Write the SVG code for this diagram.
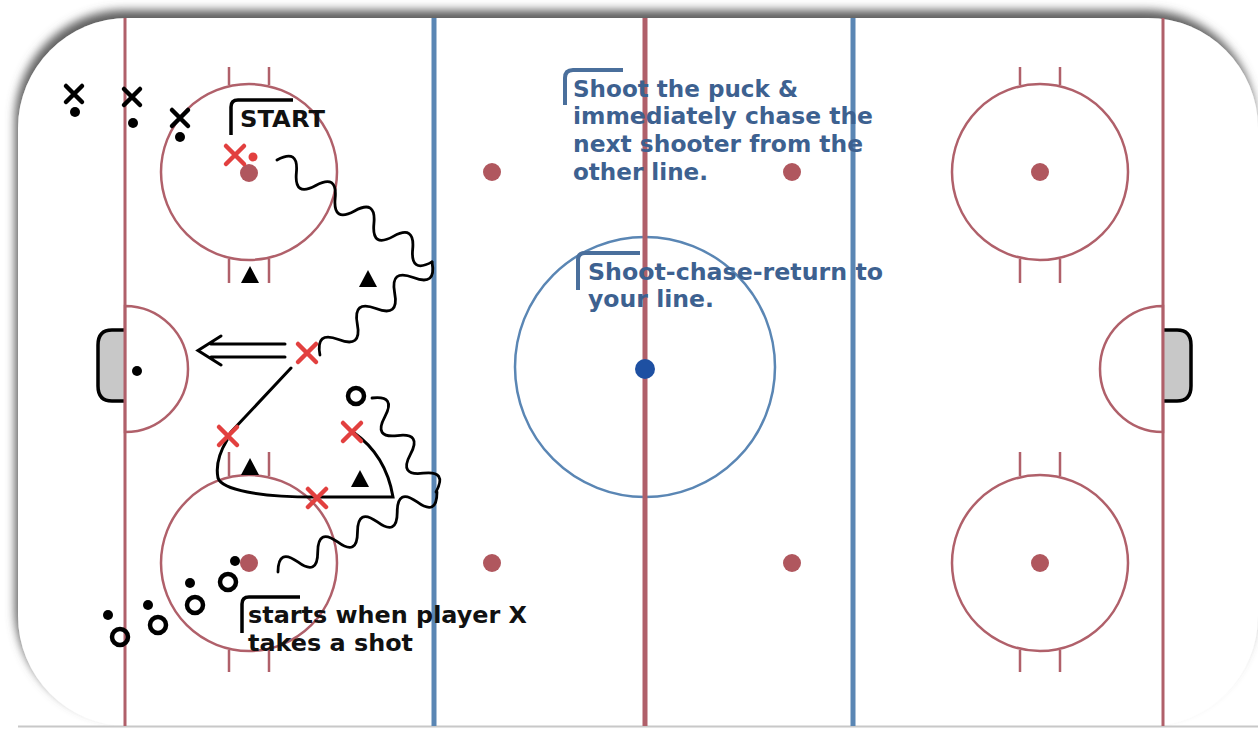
<svg xmlns="http://www.w3.org/2000/svg" width="1258" height="729" viewBox="0 0 1258 729">
<defs>
<filter id="sh" x="-5%" y="-5%" width="110%" height="110%">
<feGaussianBlur in="SourceAlpha" stdDeviation="5"/>
<feOffset dx="-3" dy="-8" result="b"/>
<feFlood flood-color="#606060"/>
<feComposite in2="b" operator="in"/>
<feMerge><feMergeNode/><feMergeNode in="SourceGraphic"/></feMerge>
</filter>
<style>
.red{stroke:#b0606a;fill:none}
.blue{stroke:#5a86b4;fill:none}
.rdot{fill:#b0575e}
.rx{stroke:#e2403f;stroke-width:4.5;stroke-linecap:round;fill:none}
.bx{stroke:#000;stroke-width:4.5;stroke-linecap:round;fill:none}
.o{stroke:#000;stroke-width:4.5;fill:none}
.wave{stroke:#000;stroke-width:2.8;fill:none;stroke-linecap:round}
.path{stroke:#000;stroke-width:3;fill:none;stroke-linecap:round}
.tri{fill:#000}
.tb{font-family:"DejaVu Sans","Liberation Sans",sans-serif;font-weight:bold;font-size:23px;fill:#3d6190}
.tk{font-family:"DejaVu Sans","Liberation Sans",sans-serif;font-weight:bold;font-size:23px;fill:#111}
.brb{stroke:#4a6f9c;stroke-width:4;fill:none}
.brk{stroke:#000;stroke-width:3.5;fill:none}
</style>
</defs>
<rect width="1258" height="729" fill="#fff"/>
<g id="rink">
<rect x="18" y="18" width="1240" height="708" rx="110" fill="#fff" filter="url(#sh)"/>
<line x1="18" y1="726.5" x2="1258" y2="726.5" stroke="#c8c8c8" stroke-width="2"/>
<path d="M125,306 A63,63 0 0 1 125,432 Z" fill="#eef4f8" class="red" stroke-width="2.5"/>
<path d="M1163,306 A63,63 0 0 0 1163,432 Z" fill="#eef4f8" class="red" stroke-width="2.5"/>
<path d="M125,330 H112 Q98,330 98,345 V386 Q98,401 112,401 H125" fill="#c8c8c8" stroke="#000" stroke-width="3.5"/>
<path d="M1163,330 H1177 Q1191,330 1191,345 V386 Q1191,401 1177,401 H1163" fill="#c8c8c8" stroke="#000" stroke-width="3.5"/>
<line x1="125" y1="18" x2="125" y2="726" class="red" stroke-width="3"/>
<line x1="1163" y1="18" x2="1163" y2="726" class="red" stroke-width="3"/>
<line x1="434" y1="18" x2="434" y2="726" class="blue" stroke-width="5"/>
<line x1="853" y1="18" x2="853" y2="726" class="blue" stroke-width="5"/>
<circle cx="645" cy="367" r="130" class="blue" stroke-width="2.5"/>
<line x1="645" y1="18" x2="645" y2="726" class="red" stroke-width="5"/>
<circle cx="645" cy="369" r="10" fill="#1e50a2"/>
<g class="red" stroke-width="2.5">
<circle cx="249" cy="172" r="88"/>
<circle cx="249" cy="563" r="88"/>
<circle cx="1040" cy="172" r="88"/>
<circle cx="1040" cy="563" r="88"/>
<path d="M229,67 V85 M269,67 V85 M229,259 V283 M269,259 V283"/>
<path d="M229,452 V476 M269,452 V476 M229,650 V672 M269,650 V672"/>
<path d="M1020,67 V85 M1060,67 V85 M1020,259 V283 M1060,259 V283"/>
<path d="M1020,452 V476 M1060,452 V476 M1020,650 V672 M1060,650 V672"/>
</g>
<g class="rdot">
<circle cx="249" cy="173" r="9"/>
<circle cx="249" cy="563" r="9"/>
<circle cx="1040" cy="172" r="9"/>
<circle cx="1040" cy="563" r="9"/>
<circle cx="492" cy="172" r="9"/>
<circle cx="792" cy="172" r="9"/>
<circle cx="492" cy="563" r="9"/>
<circle cx="792" cy="563" r="9"/>
</g>
<circle cx="137" cy="371" r="5" fill="#000"/>
</g>
<g id="connectors">
<path class="wave" transform="translate(277,160) rotate(33.3)" d="M0,0 q11.6,-22 23.19,0 t23.19,0 t23.19,0 t23.19,0 t23.19,0 t23.19,0 t23.19,0 t23.19,0"/>
<path class="wave" transform="translate(432,262) rotate(140.3)" d="M0,0 q12.13,-22 24.27,0 t24.27,0 t24.27,0 t24.27,0 t24.27,0 t24.27,0"/>
<path class="wave" transform="translate(372,398) rotate(55.75)" d="M0,0 q11.37,-22 22.74,0 t22.74,0 t22.74,0 t22.74,0 t22.74,0"/>
<path class="wave" transform="translate(437,492) rotate(153.3)" d="M0,0 q11.12,-22 22.25,0 t22.25,0 t22.25,0 t22.25,0 t22.25,0 t22.25,0 t22.25,0 t22.25,0"/>
<path class="path" d="M291,368 L231,432"/>
<path class="path" d="M227,440 C218,455 216,468 218,478 C222,490 260,497 315,497 L393,497 Q386,455 353,432"/>
<path class="path" stroke-width="3.5" d="M285,344 H211 M285,357 H211 M221,336 L198,350.5 L221,365"/>
</g>
<g id="players-x">
<path class="bx" d="M66,86 L82,102 M82,86 L66,102"/>
<circle cx="75" cy="112" r="5"/>
<path class="bx" d="M124,89 L140,105 M140,89 L124,105"/>
<circle cx="133" cy="123" r="5"/>
<path class="bx" d="M172,110 L188,126 M188,110 L172,126"/>
<circle cx="180" cy="137" r="5"/>
</g>
<g id="players-o">
<circle class="o" cx="120" cy="637" r="8"/>
<circle cx="108" cy="615" r="5"/>
<circle class="o" cx="158" cy="625" r="8"/>
<circle cx="148" cy="605" r="5"/>
<circle class="o" cx="195" cy="605" r="8"/>
<circle cx="190" cy="583" r="5"/>
<circle class="o" cx="228" cy="582" r="8"/>
<circle cx="235" cy="561" r="5"/>
<circle class="o" cx="356" cy="396" r="8"/>
</g>
<g id="red-x">
<path class="rx" d="M226,146 L244,164 M244,146 L226,164"/>
<circle cx="253" cy="157" r="4.5" fill="#e2403f"/>
<path class="rx" d="M298,344 L316,362 M316,344 L298,362"/>
<path class="rx" d="M219,427 L237,445 M237,427 L219,445"/>
<path class="rx" d="M343,423 L361,441 M361,423 L343,441"/>
<path class="rx" d="M308,489 L326,507 M326,489 L308,507"/>
</g>
<g id="cones">
<path class="tri" d="M241,283 L250,266 L259,283 Z"/>
<path class="tri" d="M359,287 L368,270 L377,287 Z"/>
<path class="tri" d="M241,475 L250,458 L259,475 Z"/>
<path class="tri" d="M351,487 L360,470 L369,487 Z"/>
</g>
<g id="label-start">
<path class="brk" d="M231,135 V107 Q231,100 238,100 H293"/>
<text class="tk" x="240" y="127" textLength="85" lengthAdjust="spacingAndGlyphs">START</text>
</g>
<g id="label-shoot">
<path class="brb" d="M565,105 V78 Q565,70 573,70 H623"/>
<text class="tb" x="573" y="97" textLength="225" lengthAdjust="spacingAndGlyphs">Shoot the puck &amp;</text>
<text class="tb" x="573" y="124" textLength="300" lengthAdjust="spacingAndGlyphs">immediately chase the</text>
<text class="tb" x="573" y="152" textLength="290" lengthAdjust="spacingAndGlyphs">next shooter from the</text>
<text class="tb" x="573" y="180" textLength="135" lengthAdjust="spacingAndGlyphs">other line.</text>
</g>
<g id="label-return">
<path class="brb" d="M578,290 V260 Q578,253 585,253 H640"/>
<text class="tb" x="588" y="280" textLength="295" lengthAdjust="spacingAndGlyphs">Shoot-chase-return to</text>
<text class="tb" x="588" y="307" textLength="126" lengthAdjust="spacingAndGlyphs">your line.</text>
</g>
<g id="label-starts">
<path class="brk" d="M242,633 V604 Q242,597 249,597 H300"/>
<text class="tk" x="248" y="623" textLength="279" lengthAdjust="spacingAndGlyphs">starts when player X</text>
<text class="tk" x="248" y="651" textLength="165" lengthAdjust="spacingAndGlyphs">takes a shot</text>
</g>
</svg>
